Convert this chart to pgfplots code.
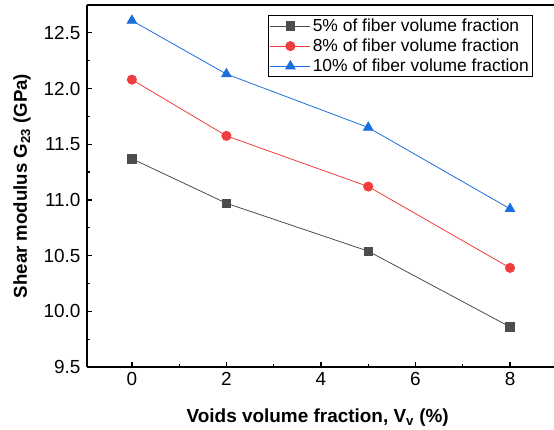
\documentclass[border=0pt]{standalone}
\usepackage{fontspec}
\setmainfont{Liberation Sans}
\usepackage{pgfplots}
\pgfplotsset{compat=1.18}
\definecolor{sgray}{HTML}{4D4D4D}
\definecolor{sred}{HTML}{F03C3C}
\definecolor{sblue}{HTML}{1A6FDF}
\begin{document}
\begin{tikzpicture}
\begin{axis}[
    scale only axis,
    width=467bp, height=362bp,
    xmin=-0.95, xmax=8.93,
    ymin=9.5, ymax=12.75,
    axis x line*=box, axis y line*=left,
    axis line style={line width=1.3bp},
    xtick={0,2,4,6,8}, ytick={9.5,10,...,12.5},
    xtick pos=bottom, ytick pos=left,
    minor x tick num=1, minor y tick num=1,
    tick align=inside,
    major tick length=5bp, minor tick length=3bp,
    tick style={line width=1.2bp, black},
    yticklabel style={/pgf/number format/fixed, /pgf/number format/fixed zerofill, /pgf/number format/precision=1, xshift=-3bp},
    xticklabel style={yshift=-2bp},
    /pgf/number format/assume math mode=true,
    tick label style={font=\fontsize{19}{21}\selectfont},
    xlabel={\textbf{Voids volume fraction, V\textsubscript{v} (\%)}},
    ylabel={\textbf{Shear modulus G\textsubscript{23} (GPa)}},
    xlabel style={font=\fontsize{19}{21}\selectfont, at={(axis description cs:0.494,-0.141)}, anchor=center},
    ylabel style={font=\fontsize{18.7}{21}\selectfont, at={(axis description cs:-0.139,0.5)}, anchor=center},
    legend style={at={(0.388,0.972)}, anchor=north west, draw=black, line width=0.6bp,
        font=\fontsize{17.5}{19}\selectfont, row sep=2bp, inner sep=1.5bp},
    legend cell align=left,
    legend image code/.code={\draw[mark repeat=2,mark phase=2] plot coordinates {(0bp,0bp)(20bp,0bp)(40bp,0bp)};},
]
\addplot[sgray, line width=0.8bp, mark=square*, mark size=4.2bp, mark options={fill=sgray, draw=sgray}]
    coordinates {(0,11.37) (2,10.97) (5,10.54) (8,9.86)};
\addlegendentry{5\% of fiber volume fraction}
\addplot[sred, line width=0.8bp, mark=*, mark size=4.6bp, mark options={fill=sred, draw=sred}]
    coordinates {(0,12.08) (2,11.575) (5,11.12) (8,10.39)};
\addlegendentry{8\% of fiber volume fraction}
\addplot[sblue, line width=0.8bp, mark=triangle*, mark size=5.5bp, mark options={fill=sblue, draw=sblue}]
    coordinates {(0,12.61) (2,12.13) (5,11.65) (8,10.92)};
\addlegendentry{10\% of fiber volume fraction}
\end{axis}
\pgfresetboundingbox
\path[use as bounding box] (-87bp,-63bp) rectangle (467bp,367bp);
\end{tikzpicture}
\end{document}
